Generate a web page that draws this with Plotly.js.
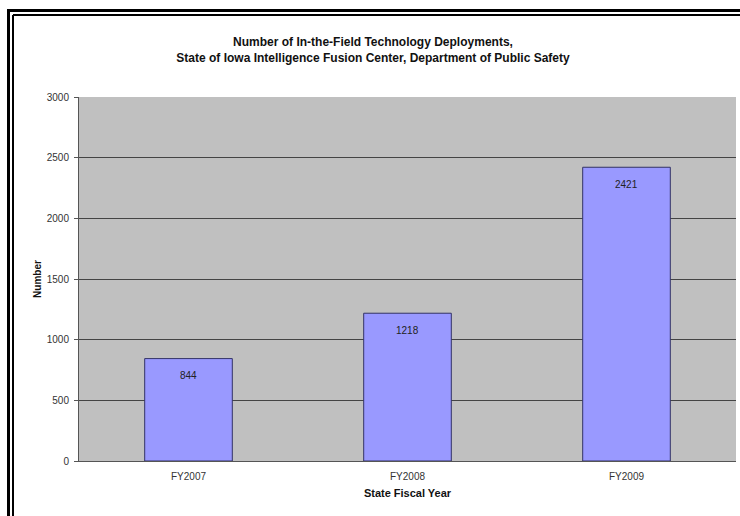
<!DOCTYPE html>
<html>
<head>
<meta charset="utf-8">
<script src="https://cdn.plot.ly/plotly-3.0.1.min.js"></script>
<style>
html,body{margin:0;padding:0;background:#fff;}
#chart{width:740px;height:516px;}
</style>
</head>
<body>
<div id="chart"></div>
<script>
const categories = ["FY2007", "FY2008", "FY2009"];
const deployments = [844, 1218, 2421];
const yTicks = [0, 500, 1000, 1500, 2000, 2500, 3000];

const FONT = "Liberation Sans, Arial, sans-serif";
const W = 740, H = 516;
const mL = 79, mR = 4, mT = 97, mB = 55;
const pw = W - mL - mR, ph = H - mT - mB;
const px = x => (x - mL) / pw;
const py = y => (H - mB - y) / ph;

function line(x0, y0, x1, y1, w) {
  return {type: "line", xref: "paper", yref: "paper",
    x0: px(x0), y0: py(y0), x1: px(x1), y1: py(y1),
    line: {color: "#000", width: w}};
}

const trace = {
  type: "bar",
  x: categories,
  y: deployments,
  width: 0.4,
  marker: {color: "#9999FF", line: {color: "#333366", width: 1}},
  hoverinfo: "skip"
};

const annotations = categories.map((c, i) => ({
  x: c, y: deployments[i], xref: "x", yref: "y",
  text: String(deployments[i]), showarrow: false,
  yshift: -17, font: {family: FONT, size: 10, color: "#222"}
}));

const layout = {
  width: W, height: H,
  margin: {l: mL, r: mR, t: mT, b: mB, pad: 0},
  paper_bgcolor: "#fff",
  plot_bgcolor: "#C0C0C0",
  showlegend: false,
  title: {
    text: "<b>Number of In-the-Field Technology Deployments,<br>State of Iowa Intelligence Fusion Center, Department of Public Safety</b>",
    font: {family: FONT, size: 12, color: "#111"},
    x: 373 / W, xref: "container", xanchor: "center",
    y: 1 - 46 / H, yref: "container", yanchor: "top"
  },
  xaxis: {
    type: "category",
    showgrid: false,
    showline: true, linecolor: "#555", linewidth: 1,
    ticks: "", ticklabelstandoff: 6,
    tickfont: {family: FONT, size: 10, color: "#333"},
    title: {text: "<b>State Fiscal Year</b>", font: {family: FONT, size: 11, color: "#111"}, standoff: 8},
    fixedrange: true
  },
  yaxis: {
    range: [0, 3000],
    tickvals: yTicks,
    ticktext: yTicks.map(String),
    showgrid: true, gridcolor: "#444", gridwidth: 1,
    zeroline: false,
    showline: true, linecolor: "#555", linewidth: 1,
    ticks: "outside", ticklen: 4, tickcolor: "#555",
    ticklabelstandoff: 3,
    tickfont: {family: FONT, size: 10, color: "#333"},
    title: {text: "<b>Number</b>", font: {family: FONT, size: 10, color: "#111"}, standoff: 3},
    fixedrange: true
  },
  annotations: annotations,
  shapes: [
    line(8.5, 10.5, 8.5, 530, 3),
    line(7, 10.5, 760, 10.5, 3),
    line(13, 15, 13, 530, 2),
    line(13, 15, 760, 15, 2)
  ]
};

Plotly.newPlot("chart", [trace], layout, {displayModeBar: false, staticPlot: true});
</script>
</body>
</html>
